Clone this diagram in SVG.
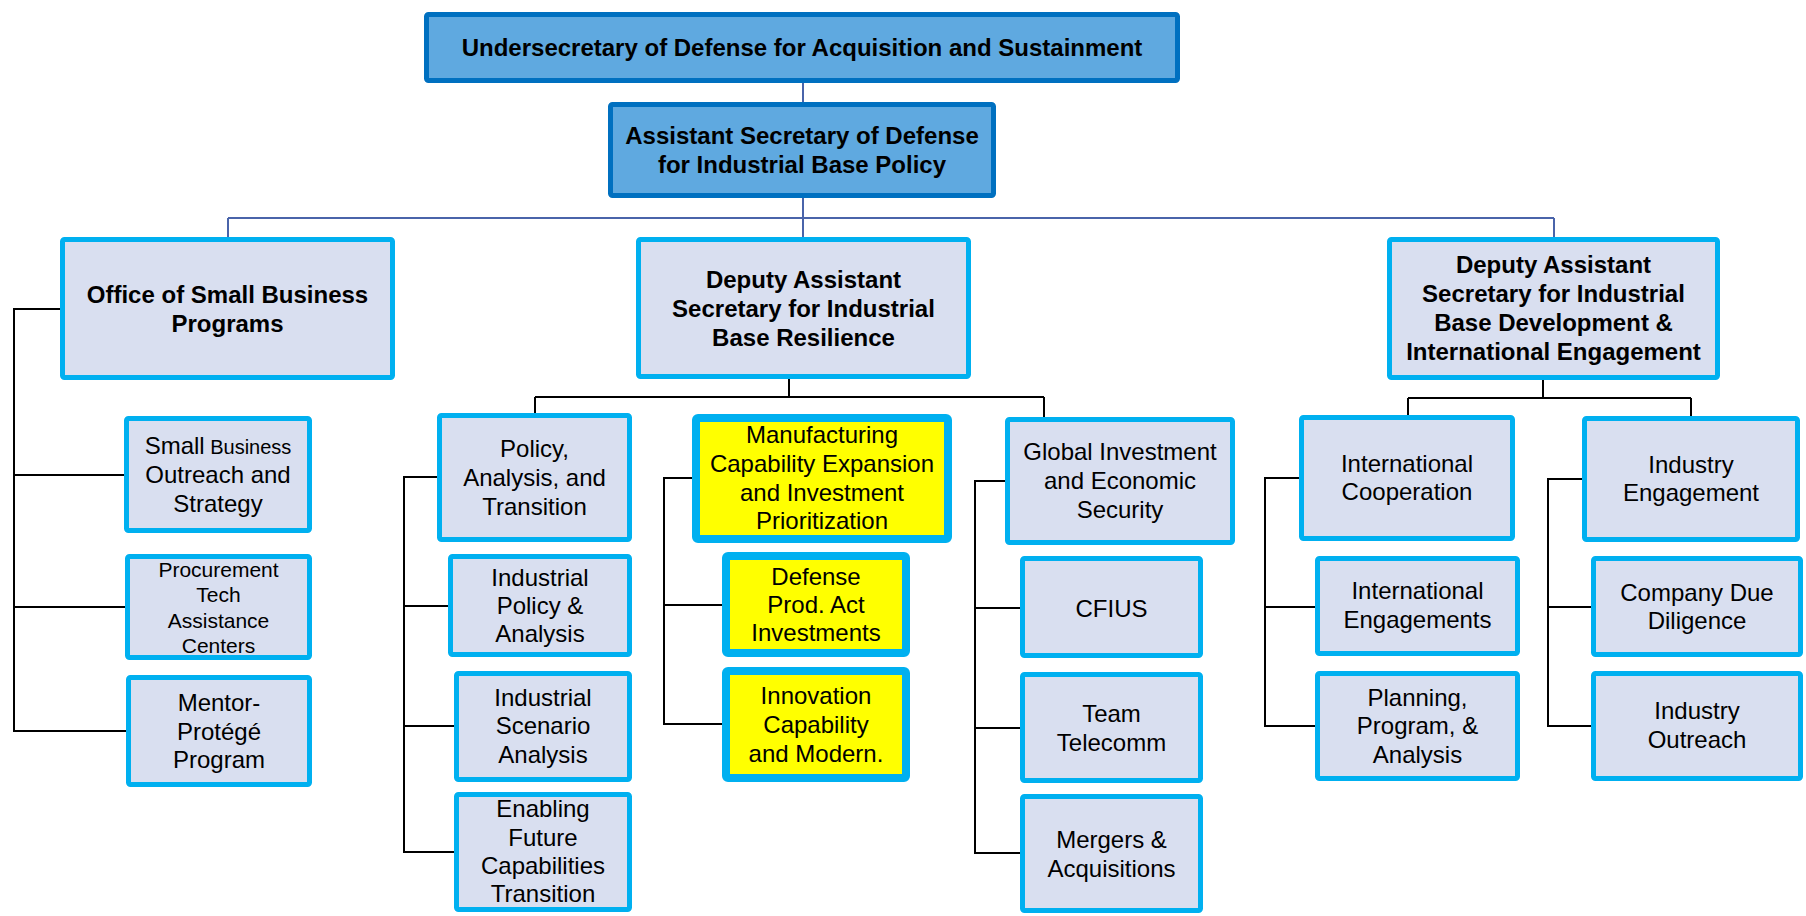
<svg xmlns="http://www.w3.org/2000/svg" width="1806" height="916" viewBox="0 0 1806 916">
  <style>
    .exec rect { fill: #5fa9e0; stroke: #0070c0; stroke-width: 5; }
    .unit rect { fill: #d9dff0; stroke: #00b0f0; stroke-width: 5; }
    .hl rect { fill: #ffff00; stroke: #00b0f0; stroke-width: 8; }
    text { font-family: "Liberation Sans", Arial, sans-serif; fill: #000; text-anchor: middle; font-size: 24px; }
    .b { font-weight: bold; }
    .s21 { font-size: 21px; }
    .top-link { stroke: #4a64aa; stroke-width: 2; fill: none; }
    .link { stroke: #000; stroke-width: 2; fill: none; }
  </style>
  <rect width="1806" height="916" fill="#fff"/>

  <!-- connectors -->
  <g id="connectors">
    <path class="top-link" d="M803 83 V102 M803 197 V237 M228 218 H1554 M228 218 V237 M1554 218 V237"/>
    <!-- small business programs -->
    <path class="link" d="M61 309 H14 V731 H127 M14 475 H125 M14 607 H126"/>
    <!-- industrial base resilience -->
    <path class="link" d="M789 379 V397 M535 397 H1044 M535 397 V413 M1044 397 V417"/>
    <path class="link" d="M438 477 H404 V852 H455 M404 606 H449 M404 726 H455"/>
    <path class="link" d="M693 478 H664 V724 H723 M664 605 H723"/>
    <path class="link" d="M1006 481 H975 V853 H1021 M975 608 H1021 M975 728 H1021"/>
    <!-- industrial base development -->
    <path class="link" d="M1543 380 V398 M1408 398 H1691 M1408 398 V415 M1691 398 V416"/>
    <path class="link" d="M1300 478 H1265 V726 H1316 M1265 607 H1316"/>
    <path class="link" d="M1583 479 H1548 V726 H1592 M1548 607 H1592"/>
  </g>

  <!-- executive level -->
  <g id="usd-as" class="exec">
    <rect x="426.5" y="14.5" width="751" height="66" rx="2"/>
    <text class="b" x="802" y="56">Undersecretary of Defense for Acquisition and Sustainment</text>
  </g>
  <g id="asd-ibp" class="exec">
    <rect x="610.5" y="104.5" width="383" height="91" rx="2"/>
    <text class="b" x="802" y="144">Assistant Secretary of Defense</text>
    <text class="b" x="802" y="173">for Industrial Base Policy</text>
  </g>

  <!-- second tier -->
  <g id="osbp" class="unit">
    <rect x="62.5" y="239.5" width="330" height="138" rx="2"/>
    <text class="b" x="227.5" y="303">Office of Small Business</text>
    <text class="b" x="227.5" y="332">Programs</text>
  </g>
  <g id="das-ibr" class="unit">
    <rect x="638.5" y="239.5" width="330" height="137" rx="2"/>
    <text class="b" x="803.5" y="288">Deputy Assistant</text>
    <text class="b" x="803.5" y="317">Secretary for Industrial</text>
    <text class="b" x="803.5" y="346">Base Resilience</text>
  </g>
  <g id="das-ibdie" class="unit">
    <rect x="1389.5" y="239.5" width="328" height="138" rx="2"/>
    <text class="b" x="1553.5" y="273">Deputy Assistant</text>
    <text class="b" x="1553.5" y="302">Secretary for Industrial</text>
    <text class="b" x="1553.5" y="331">Base Development &amp;</text>
    <text class="b" x="1553.5" y="360">International Engagement</text>
  </g>

  <!-- small business offices -->
  <g id="sbos" class="unit">
    <rect x="126.5" y="418.5" width="183" height="112" rx="2"/>
    <text x="218" y="454">Small<tspan font-size="20"> Business</tspan></text>
    <text x="218" y="483">Outreach and</text>
    <text x="218" y="512">Strategy</text>
  </g>
  <g id="ptac" class="unit">
    <rect x="127.5" y="556.5" width="182" height="101" rx="2"/>
    <text class="s21" x="218.5" y="577">Procurement</text>
    <text class="s21" x="218.5" y="602">Tech</text>
    <text class="s21" x="218.5" y="628">Assistance</text>
    <text class="s21" x="218.5" y="653">Centers</text>
  </g>
  <g id="mpp" class="unit">
    <rect x="128.5" y="677.5" width="181" height="107" rx="2"/>
    <text x="219" y="711">Mentor-</text>
    <text x="219" y="740">Protégé</text>
    <text x="219" y="768">Program</text>
  </g>

  <!-- policy, analysis and transition -->
  <g id="pat" class="unit">
    <rect x="439.5" y="415.5" width="190" height="124" rx="2"/>
    <text x="534.5" y="457">Policy,</text>
    <text x="534.5" y="486">Analysis, and</text>
    <text x="534.5" y="515">Transition</text>
  </g>
  <g id="ipa" class="unit">
    <rect x="450.5" y="556.5" width="179" height="98" rx="2"/>
    <text x="540" y="586">Industrial</text>
    <text x="540" y="614">Policy &amp;</text>
    <text x="540" y="642">Analysis</text>
  </g>
  <g id="isa" class="unit">
    <rect x="456.5" y="673.5" width="173" height="106" rx="2"/>
    <text x="543" y="706">Industrial</text>
    <text x="543" y="734">Scenario</text>
    <text x="543" y="763">Analysis</text>
  </g>
  <g id="efct" class="unit">
    <rect x="456.5" y="794.5" width="173" height="115" rx="2"/>
    <text x="543" y="817">Enabling</text>
    <text x="543" y="846">Future</text>
    <text x="543" y="874">Capabilities</text>
    <text x="543" y="902">Transition</text>
  </g>

  <!-- manufacturing capability expansion -->
  <g id="mceip" class="hl">
    <rect x="696" y="418" width="252" height="121" rx="2"/>
    <text x="822" y="443">Manufacturing</text>
    <text x="822" y="472">Capability Expansion</text>
    <text x="822" y="501">and Investment</text>
    <text x="822" y="529">Prioritization</text>
  </g>
  <g id="dpai" class="hl">
    <rect x="726" y="556" width="180" height="97" rx="2"/>
    <text x="816" y="585">Defense</text>
    <text x="816" y="613">Prod. Act</text>
    <text x="816" y="641">Investments</text>
  </g>
  <g id="icm" class="hl">
    <rect x="726" y="671" width="180" height="107" rx="2"/>
    <text x="816" y="704">Innovation</text>
    <text x="816" y="733">Capability</text>
    <text x="816" y="762">and Modern.</text>
  </g>

  <!-- global investment and economic security -->
  <g id="gies" class="unit">
    <rect x="1007.5" y="419.5" width="225" height="123" rx="2"/>
    <text x="1120" y="460">Global Investment</text>
    <text x="1120" y="489">and Economic</text>
    <text x="1120" y="518">Security</text>
  </g>
  <g id="cfius" class="unit">
    <rect x="1022.5" y="558.5" width="178" height="97" rx="2"/>
    <text x="1111.5" y="617">CFIUS</text>
  </g>
  <g id="team-telecomm" class="unit">
    <rect x="1022.5" y="674.5" width="178" height="106" rx="2"/>
    <text x="1111.5" y="722">Team</text>
    <text x="1111.5" y="751">Telecomm</text>
  </g>
  <g id="ma" class="unit">
    <rect x="1022.5" y="796.5" width="178" height="114" rx="2"/>
    <text x="1111.5" y="848">Mergers &amp;</text>
    <text x="1111.5" y="877">Acquisitions</text>
  </g>

  <!-- international cooperation -->
  <g id="ic" class="unit">
    <rect x="1301.5" y="417.5" width="211" height="121" rx="2"/>
    <text x="1407" y="472">International</text>
    <text x="1407" y="500">Cooperation</text>
  </g>
  <g id="ie" class="unit">
    <rect x="1317.5" y="558.5" width="200" height="95" rx="2"/>
    <text x="1417.5" y="599">International</text>
    <text x="1417.5" y="628">Engagements</text>
  </g>
  <g id="ppa" class="unit">
    <rect x="1317.5" y="673.5" width="200" height="105" rx="2"/>
    <text x="1417.5" y="706">Planning,</text>
    <text x="1417.5" y="734">Program, &amp;</text>
    <text x="1417.5" y="763">Analysis</text>
  </g>

  <!-- industry engagement -->
  <g id="inde" class="unit">
    <rect x="1584.5" y="418.5" width="213" height="121" rx="2"/>
    <text x="1691" y="473">Industry</text>
    <text x="1691" y="501">Engagement</text>
  </g>
  <g id="cdd" class="unit">
    <rect x="1593.5" y="558.5" width="207" height="96" rx="2"/>
    <text x="1697" y="601">Company Due</text>
    <text x="1697" y="629">Diligence</text>
  </g>
  <g id="io" class="unit">
    <rect x="1593.5" y="673.5" width="207" height="105" rx="2"/>
    <text x="1697" y="719">Industry</text>
    <text x="1697" y="748">Outreach</text>
  </g>
</svg>
